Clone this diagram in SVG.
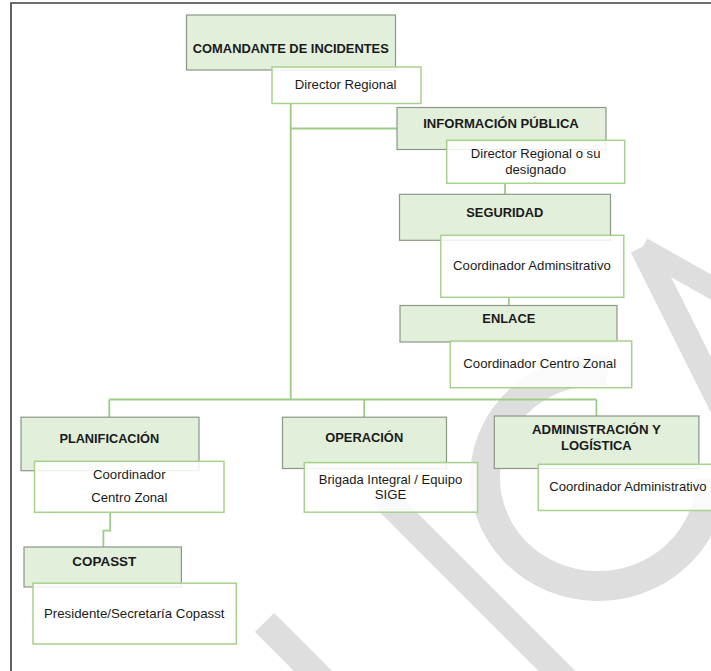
<svg xmlns="http://www.w3.org/2000/svg" width="711" height="671" viewBox="0 0 711 671">
<style>
.hd{fill:#e2efda;stroke:#8c9788;stroke-width:1.2}
.bx{fill:#ffffff;fill-opacity:0.85;stroke:#a9d18e;stroke-width:1.5}
.ht{font-family:"Liberation Sans",Arial,sans-serif;font-weight:bold;font-size:13.6px;fill:#1a1a1a;text-anchor:middle}
.tx{font-family:"Liberation Sans",Arial,sans-serif;font-size:13.6px;fill:#1a1a1a;text-anchor:middle}
.cn{fill:none;stroke:#9ccc86;stroke-width:1.8}
.wm{fill:none;stroke:#dedede}
</style>
<rect x="0" y="0" width="711" height="671" fill="#ffffff"/>
<g id="watermark">
<line class="wm" x1="264.5" y1="622.5" x2="330" y2="688" stroke-width="27"/>
<line class="wm" x1="384" y1="498" x2="570" y2="684" stroke-width="26"/>
<path class="wm" d="M711 478 A113 108 0 1 1 608 370.5" stroke-width="30"/>
<line class="wm" x1="642" y1="247" x2="740" y2="443" stroke-width="25"/>
<line class="wm" x1="642" y1="248" x2="730" y2="298" stroke-width="22"/>
</g>
<path d="M11 671 V3 H711" fill="none" stroke="#3c3c3c" stroke-width="1.6"/>
<g id="connectors">
<path class="cn" d="M290.7 103.5 V399"/>
<path class="cn" d="M290.7 128.5 H397"/>
<path class="cn" d="M505 183 V194.3"/>
<path class="cn" d="M508.8 297.4 V305.5"/>
<path class="cn" d="M109.3 399.5 H596.4"/>
<path class="cn" d="M109.3 399.5 V417.2"/>
<path class="cn" d="M364.2 399.5 V417.2"/>
<path class="cn" d="M596.4 399.5 V416"/>
<path class="cn" d="M110.2 512.2 V530.6 H103.4 V547"/>
</g>
<g id="comandante">
<rect class="hd" x="186.5" y="15" width="209" height="55"/>
<text class="ht" x="290.8" y="52.7" textLength="196" lengthAdjust="spacingAndGlyphs">COMANDANTE DE INCIDENTES</text>
<rect class="bx" x="272" y="67" width="149" height="36.5"/>
<text class="tx" x="345.6" y="89.4" textLength="101.6" lengthAdjust="spacingAndGlyphs">Director Regional</text>
</g>
<g id="informacion">
<rect class="hd" x="397" y="107.5" width="209" height="42"/>
<text class="ht" x="501" y="127.9" textLength="155.6" lengthAdjust="spacingAndGlyphs">INFORMACIÓN PÚBLICA</text>
<rect class="bx" x="446.7" y="140.3" width="178" height="43"/>
<text class="tx" x="535.6" y="157.9" textLength="129.7" lengthAdjust="spacingAndGlyphs">Director Regional o su</text>
<text class="tx" x="535.6" y="173.7" textLength="60.8" lengthAdjust="spacingAndGlyphs">designado</text>
</g>
<g id="seguridad">
<rect class="hd" x="399.5" y="194.3" width="211" height="46"/>
<text class="ht" x="504.8" y="216.6" textLength="77.1" lengthAdjust="spacingAndGlyphs">SEGURIDAD</text>
<rect class="bx" x="440.8" y="235.3" width="183" height="62"/>
<text class="tx" x="532" y="270.4" textLength="157.8" lengthAdjust="spacingAndGlyphs">Coordinador Adminsitrativo</text>
</g>
<g id="enlace">
<rect class="hd" x="400" y="305.5" width="217" height="36.5"/>
<text class="ht" x="508.8" y="322.8" textLength="53" lengthAdjust="spacingAndGlyphs">ENLACE</text>
<rect class="bx" x="450.3" y="341" width="181.4" height="46.7"/>
<text class="tx" x="539.7" y="368.4" textLength="152.8" lengthAdjust="spacingAndGlyphs">Coordinador Centro Zonal</text>
</g>
<g id="planificacion">
<rect class="hd" x="21" y="417.2" width="178" height="53.5"/>
<text class="ht" x="109.3" y="443" textLength="99.8" lengthAdjust="spacingAndGlyphs">PLANIFICACIÓN</text>
<rect class="bx" x="34.5" y="461.3" width="189.5" height="51"/>
<text class="tx" x="129.3" y="478.7" textLength="72.6" lengthAdjust="spacingAndGlyphs">Coordinador</text>
<text class="tx" x="129.3" y="501.9" textLength="76.2" lengthAdjust="spacingAndGlyphs">Centro Zonal</text>
</g>
<g id="operacion">
<rect class="hd" x="282.5" y="417.2" width="164" height="51.3"/>
<text class="ht" x="364.2" y="441.7" textLength="78" lengthAdjust="spacingAndGlyphs">OPERACIÓN</text>
<rect class="bx" x="304.3" y="462.6" width="173.3" height="49.6"/>
<text class="tx" x="390.5" y="483.5" textLength="143.3" lengthAdjust="spacingAndGlyphs">Brigada Integral / Equipo</text>
<text class="tx" x="390.5" y="498.9" textLength="31.7" lengthAdjust="spacingAndGlyphs">SIGE</text>
</g>
<g id="administracion">
<rect class="hd" x="494.3" y="416" width="204.6" height="52.5"/>
<text class="ht" x="596.4" y="434" textLength="128.8" lengthAdjust="spacingAndGlyphs">ADMINISTRACIÓN Y</text>
<text class="ht" x="596.4" y="449.8" textLength="70.7" lengthAdjust="spacingAndGlyphs">LOGÍSTICA</text>
<rect class="bx" x="538.3" y="464.3" width="180" height="46.2"/>
<text class="tx" x="627.9" y="491.2" textLength="157.4" lengthAdjust="spacingAndGlyphs">Coordinador Administrativo</text>
</g>
<g id="copasst">
<rect class="hd" x="24" y="547" width="157.4" height="40"/>
<text class="ht" x="104.3" y="566.2" textLength="63.9" lengthAdjust="spacingAndGlyphs">COPASST</text>
<rect class="bx" x="33" y="583.2" width="203.3" height="60.8"/>
<text class="tx" x="134.2" y="617.9" textLength="180.5" lengthAdjust="spacingAndGlyphs">Presidente/Secretaría Copasst</text>
</g>
</svg>
